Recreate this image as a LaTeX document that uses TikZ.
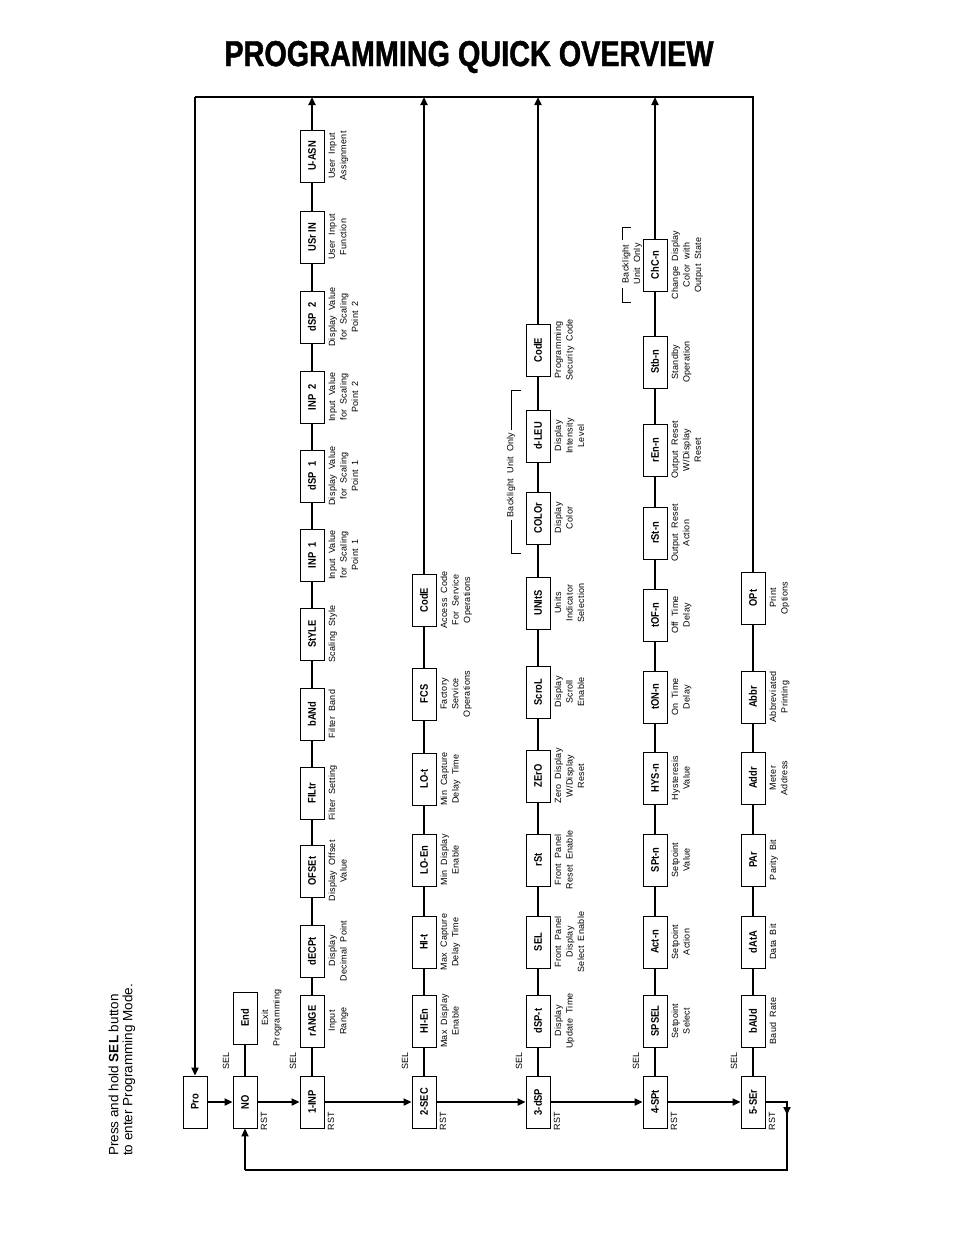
\documentclass[tikz,border=0pt]{standalone}
\usepackage{fontspec}
\usepackage{graphicx}
\setmainfont{Liberation Sans}
\newfontfamily\dispfont{Liberation Sans}[FakeStretch=0.85]
\newfontfamily\titlefont{Liberation Sans}[FakeStretch=0.80,FakeBold=1.2]
\newfontfamily\lblfont{Liberation Sans}[LetterSpace=3,WordSpace=1.8]
\usetikzlibrary{arrows.meta,calc}
\newcommand\pgmbox[5]{\node[pbox] (#1) at (#2,#3) {#4};\node[lbl] (#1-l) at ($(#1.south)+(4,0)$) {#5};}
\begin{document}
\begin{tikzpicture}[x=1pt,y=-1pt,
  pbox/.style={draw=black, line width=0.9pt, fill=white, minimum width=52pt, minimum height=24pt, inner sep=0pt, rotate=90, font=\dispfont\bfseries\fontsize{11}{11}\selectfont},
  lbl/.style={rotate=90, anchor=north, align=center, inner sep=0pt, font=\lblfont\fontsize{9}{11.5}\selectfont},
  small/.style={rotate=90, inner sep=0pt, font=\fontsize{9}{9}\selectfont},
  thinl/.style={line width=1.8pt},
  heavy/.style={line width=2.8pt},
  arr/.style={-{Triangle[length=8pt,width=7pt]}}
]
\fill[white] (0,0) rectangle (954,1235);
\useasboundingbox (0,0) rectangle (954,1235);

\node[inner sep=0pt, font=\titlefont\bfseries\fontsize{36}{36}\selectfont] (title) at (469,57) {PROGRAMMING QUICK OVERVIEW};

\node[rotate=90, anchor=west, align=left, inner sep=0pt, font=\fontsize{13.5}{14}\selectfont] (press) at (122,1156) {Press and hold \textbf{SEL} button\\to enter Programming Mode.};

% main chain
\node[pbox] (pro) at (195,1102) {Pro};
\node[pbox] (no) at (245,1102) {NO};
\pgmbox{end}{245}{1018}{End}{Exit\\Programming}
\node[pbox] (inp) at (312,1102) {1-INP};
\node[pbox] (sec) at (424,1102) {2-SEC};
\node[pbox] (dsp) at (538,1102) {3-dSP};
\node[pbox] (spt) at (655,1102) {4-SPt};
\node[pbox] (ser) at (753,1102) {5-SEr};

\foreach \n/\x in {no/245,inp/312,sec/424,dsp/538,spt/655,ser/753}{
  \node[small] (\n-sel) at (\x-19,1061) {SEL};
  \node[small] (\n-rst) at (\x+19,1121) {RST};
}

% column 1
\pgmbox{range}{312}{1021}{rANGE}{Input\\Range}
\pgmbox{decpt}{312}{951}{dECPt}{Display\\Decimal Point}
\pgmbox{ofset}{312}{871}{OFSEt}{Display Offset\\Value}
\pgmbox{filtr}{312}{793}{FILtr}{Filter Setting}
\pgmbox{band}{312}{714}{bANd}{Filter Band}
\pgmbox{style}{312}{634}{StYLE}{Scaling Style}
\pgmbox{inpa}{312}{555}{INP\enspace1}{Input Value\\for Scaling\\Point 1}
\pgmbox{dspa}{312}{476}{dSP\enspace1}{Display Value\\for Scaling\\Point 1}
\pgmbox{inpb}{312}{397}{INP\enspace2}{Input Value\\for Scaling\\Point 2}
\pgmbox{dspb}{312}{317}{dSP\enspace2}{Display Value\\for Scaling\\Point 2}
\pgmbox{usrin}{312}{237}{USr IN}{User Input\\Function}
\pgmbox{uasn}{312}{156}{U-ASN}{User Input\\Assignment}

% column 2
\pgmbox{hien}{424}{1021}{HI-En}{Max Display\\Enable}
\pgmbox{hit}{424}{942}{HI-t}{Max Capture\\Delay Time}
\pgmbox{loen}{424}{860}{LO-En}{Min Display\\Enable}
\pgmbox{lot}{424}{779}{LO-t}{Min Capture\\Delay Time}
\pgmbox{fcs}{424}{694}{FCS}{Factory\\Service\\Operations}
\pgmbox{codea}{424}{600}{CodE}{Access Code\\For Service\\Operations}

% column 3
\pgmbox{dspt}{538}{1021}{dSP-t}{Display\\Update Time}
\pgmbox{sel}{538}{942}{SEL}{Front Panel\\Display\\Select Enable}
\pgmbox{rst}{538}{860}{rSt}{Front Panel\\Reset Enable}
\pgmbox{zero}{538}{776}{ZErO}{Zero Display\\W/Display\\Reset}
\pgmbox{scrol}{538}{692}{ScroL}{Display\\Scroll\\Enable}
\pgmbox{units}{538}{603}{UNItS}{Units\\Indicator\\Selection}
\pgmbox{color}{538}{518}{COLOr}{Display\\Color}
\pgmbox{dleu}{538}{436}{d-LEU}{Display\\Intensity\\Level}
\pgmbox{codeb}{538}{350}{CodE}{Programming\\Security Code}

% column 4
\pgmbox{spsel}{655}{1021}{SPSEL}{Setpoint\\Select}
\pgmbox{actn}{655}{942}{Act-n}{Setpoint\\Action}
\pgmbox{sptn}{655}{860}{SPt-n}{Setpoint\\Value}
\pgmbox{hysn}{655}{778}{HYS-n}{Hysteresis\\Value}
\pgmbox{tonn}{655}{697}{tON-n}{On Time\\Delay}
\pgmbox{tofn}{655}{615}{tOF-n}{Off Time\\Delay}
\pgmbox{rstn}{655}{533}{rSt-n}{Output Reset\\Action}
\pgmbox{renn}{655}{450}{rEn-n}{Output Reset\\W/Display\\Reset}
\pgmbox{stbn}{655}{362}{Stb-n}{Standby\\Operation}
\pgmbox{chcn}{655}{265}{ChC-n}{Change Display\\Color with\\Output State}

% column 5
\pgmbox{baud}{753}{1021}{bAUd}{Baud Rate}
\pgmbox{data}{753}{942}{dAtA}{Data Bit}
\pgmbox{par}{753}{860}{PAr}{Parity Bit}
\pgmbox{addr}{753}{778}{Addr}{Meter\\Address}
\pgmbox{abbr}{753}{697}{Abbr}{Abbreviated\\Printing}
\pgmbox{opt}{753}{598}{OPt}{Print\\Options}

% column connectors
\draw[heavy] (no) -- (end);
\foreach \a/\b in {inp/range,range/decpt,decpt/ofset,ofset/filtr,filtr/band,band/style,style/inpa,inpa/dspa,dspa/inpb,inpb/dspb,dspb/usrin,usrin/uasn,
  sec/hien,hien/hit,hit/loen,loen/lot,lot/fcs,fcs/codea,
  dsp/dspt,dspt/sel,sel/rst,rst/zero,zero/scrol,scrol/units,units/color,color/dleu,dleu/codeb,
  spt/spsel,spsel/actn,actn/sptn,sptn/hysn,hysn/tonn,tonn/tofn,tofn/rstn,rstn/renn,renn/stbn,stbn/chcn,
  ser/baud,baud/data,data/par,par/addr,addr/abbr,abbr/opt}
  \draw[thinl] (\a) -- (\b);

% top line and arrows
\coordinate (tl) at (195,97);
\coordinate (tr) at (753,97);
\coordinate (t1) at (312,97);
\coordinate (t2) at (424,97);
\coordinate (t3) at (538,97);
\coordinate (t4) at (655,97);
\draw[heavy] (opt) -- (tr) -- (tl);
\draw[heavy,arr] (tl) -- (pro);
\draw[heavy,arr] (uasn) -- (t1);
\draw[heavy,arr] (codea) -- (t2);
\draw[heavy,arr] (codeb) -- (t3);
\draw[heavy,arr] (chcn) -- (t4);

% main chain arrows
\draw[heavy,arr] (pro) -- (no);
\draw[heavy,arr] (no) -- (inp);
\draw[heavy,arr] (inp) -- (sec);
\draw[heavy,arr] (sec) -- (dsp);
\draw[heavy,arr] (dsp) -- (spt);
\draw[heavy,arr] (spt) -- (ser);

% return line
\coordinate (b1) at (787,1102);
\coordinate (b2) at (787,1170);
\coordinate (b3) at (245,1170);
\draw[heavy] (ser) -- (b1) -- (b2) -- (b3);
\draw[heavy,arr] (b1) -- ($(b1)+(0,13)$);
\draw[heavy,arr] (b3) -- (no);

% backlight brackets
\draw[line width=0.7pt] (521,390) -- (511,390) -- (511,553) -- (521,553);
\node[rotate=90, fill=white, inner xsep=3pt, inner ysep=1pt, font=\lblfont\fontsize{9}{11.5}\selectfont] (bl1) at (511,475) {Backlight Unit Only};
\draw[line width=0.7pt] (631,227) -- (622,227) -- (622,302) -- (631,302);
\node[rotate=90, fill=white, align=center, inner xsep=3pt, inner ysep=0pt, font=\lblfont\fontsize{9}{11.5}\selectfont] (bl2) at (632,264) {Backlight\\Unit Only};
\end{tikzpicture}
\end{document}
